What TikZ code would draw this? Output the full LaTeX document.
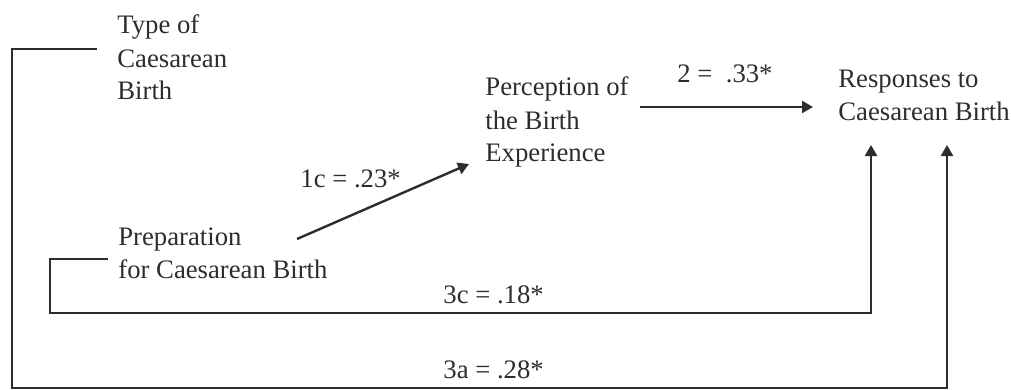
\documentclass[tikz,border=0pt]{standalone}
\usepackage{fontspec}
\setmainfont{Liberation Serif}
\usetikzlibrary{calc, arrows.meta}
\definecolor{Migris}{RGB}{45,45,45}

\begin{document}
\begin{tikzpicture}[
  x=0.5pt, y=-0.5pt,
  font=\fontsize{13.35}{16.5}\selectfont,
  var/.style={anchor=base west, align=left, inner sep=0pt, text=Migris},
  coef/.style={anchor=base west, inner sep=0pt, text=Migris},
  arr/.style={-{Triangle[length=5.5pt, width=6pt]}, draw=Migris, line width=1.2pt},
  bkt/.style={draw=Migris, line width=1.2pt}
]
\useasboundingbox (0,0) rectangle (1011,390);

%% ---- variables (base = last line) ----
\node[var] (type) at (117,100) {Type of\\Caesarean\\Birth};
\node[var] (perc) at (485,162) {Perception of\\the Birth\\Experience};
\node[var] (resp) at (838,120) {Responses to\\Caesarean Birth};
\node[var] (prep) at (118,278) {Preparation\\for Caesarean Birth};

%% ---- path coefficients ----
\node[coef] (c2)  at (677, 83) {2 = \ .33*};
\node[coef] (c1c) at (300,187) {1c = .23*};
\node[coef] (c3c) at (443,303) {3c = .18*};
\node[coef] (c3a) at (443,378) {3a = .28*};

%% ---- connector ends ----
\coordinate (typeout) at ($(type.base west)+(-20,-51)$);
\coordinate (prepout) at ($(prep.base west)+(-10,-19)$);
\coordinate (p1c)     at ($(prep.base west)+(179,-39)$);
\coordinate (tip1c)   at ($(perc.base west)+(-16,2)$);
\coordinate (p2)      at ($(perc.base west)+(155,-55)$);
\coordinate (tip3c)   at ($(resp.base west)+(33,25)$);
\coordinate (tip3a)   at ($(resp.base west)+(109,25)$);

%% ---- paths ----
\draw[arr] (p1c) -- (tip1c);
\draw[arr, shorten >=12.5pt] (p2) -- (p2 -| resp.west);
\draw[arr] (prepout) -- ++(-58,0) -- ++(0,54) -| (tip3c);
\draw[arr] (typeout) -- ++(-85,0) -- ++(0,339) -| (tip3a);

\end{tikzpicture}
\end{document}
